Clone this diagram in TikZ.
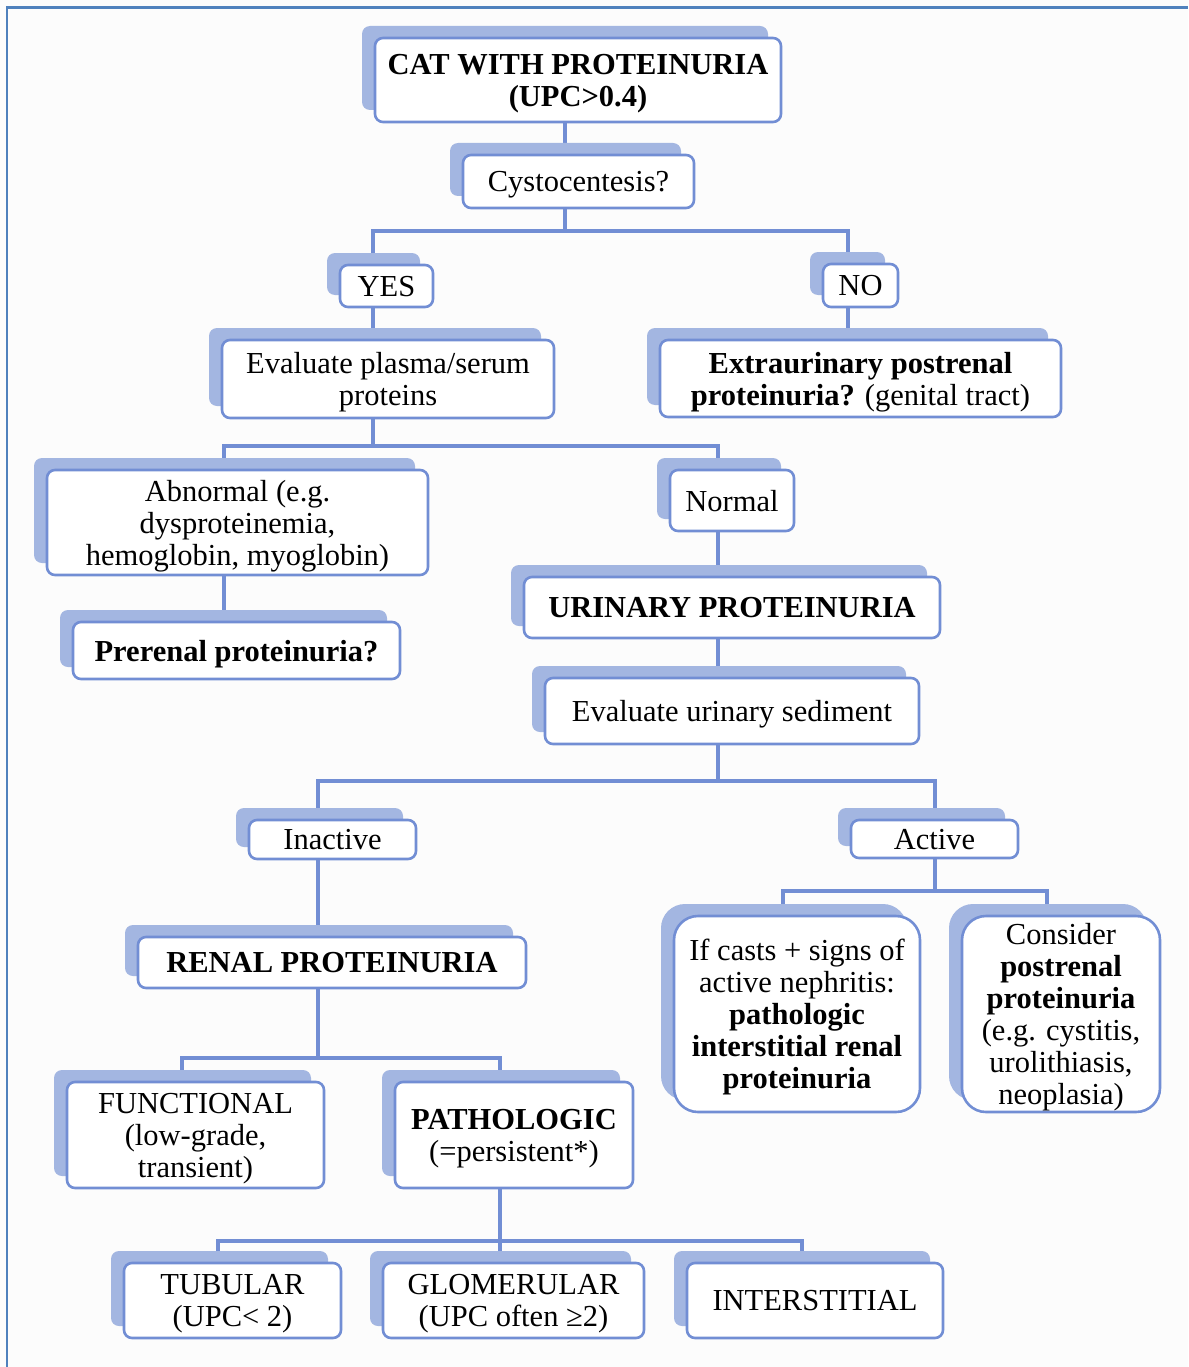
\documentclass[tikz,border=0pt]{standalone}
\usepackage{fontspec}
\setmainfont{Liberation Serif}
\usetikzlibrary{shadows,backgrounds}
\definecolor{boxline}{RGB}{114,142,212}
\definecolor{shadowfill}{RGB}{163,182,225}
\definecolor{frameblue}{RGB}{79,129,189}
\definecolor{pagebg}{RGB}{252,252,252}
\tikzset{
  box/.style={draw=boxline, line width=2.6pt, fill=white, rounded corners=8pt,
    align=center, inner sep=0pt, text=black, text depth=0pt,
    font=\fontsize{30.5}{32}\selectfont,
    general shadow={fill=shadowfill, draw=none, shadow xshift=-13pt, shadow yshift=12pt}},
  bigbox/.style={box, rounded corners=24pt},
  conn/.style={draw=boxline, line width=4pt},
  frameline/.style={draw=frameblue, line width=2.5pt}
}
\newcommand\mkcp[2]{%
  \coordinate (#1-t) at ([xshift=#2]#1.north);
  \coordinate (#1-b) at ([xshift=#2]#1.south);}
\begin{document}
\begin{tikzpicture}[x=1pt,y=-1pt]
\begin{scope}[on background layer]
  \fill[pagebg] (0,0) rectangle (1188,1367);
\end{scope}
\useasboundingbox (0,0) rectangle (1188,1367);

% nodes
\node[box, minimum width=406pt, minimum height=84pt] (cat) at (578,80)
  {\textbf{CAT WITH PROTEINURIA}\\\textbf{(UPC>0.4)}};
\node[box, minimum width=231pt, minimum height=53pt] (cyst) at (578.5,181.5) {Cystocentesis?};
\node[box, minimum width=93pt, minimum height=42pt] (yes) at (386.5,286) {YES};
\node[box, minimum width=75pt, minimum height=43pt] (no) at (860.5,285.5) {NO};
\node[box, minimum width=332pt, minimum height=78pt] (evalp) at (388,379)
  {Evaluate plasma/serum\\proteins};
\node[box, minimum width=401pt, minimum height=77pt] (extra) at (860.5,378.5)
  {\textbf{Extraurinary postrenal}\\\textbf{proteinuria?} (genital tract)};
\node[box, minimum width=381pt, minimum height=105pt] (abn) at (237.5,522.5)
  {Abnormal (e.g.\\dysproteinemia,\\hemoglobin, myoglobin)};
\node[box, minimum width=124pt, minimum height=61pt] (normal) at (732,500.5) {Normal};
\node[box, minimum width=327pt, minimum height=57pt] (prerenal) at (236.5,650.5)
  {\textbf{Prerenal proteinuria?}};
\node[box, minimum width=416pt, minimum height=61pt] (urinary) at (732,607.5)
  {\textbf{URINARY PROTEINURIA}};
\node[box, minimum width=374pt, minimum height=66pt] (sediment) at (732,711)
  {Evaluate urinary sediment};
\node[box, minimum width=167pt, minimum height=39pt] (inactive) at (332.5,839.5) {Inactive};
\node[box, minimum width=167pt, minimum height=38pt] (active) at (934.5,839) {Active};
\node[box, minimum width=388pt, minimum height=51pt] (renal) at (332,962.5)
  {\textbf{RENAL PROTEINURIA}};
\node[bigbox, minimum width=246pt, minimum height=196pt] (casts) at (797,1014)
  {If casts + signs of\\active nephritis:\\\textbf{pathologic}\\\textbf{interstitial renal}\\\textbf{proteinuria}};
\node[bigbox, minimum width=198pt, minimum height=196pt] (consider) at (1061,1014)
  {Consider\\\textbf{postrenal}\\\textbf{proteinuria}\\(e.g. cystitis,\\urolithiasis,\\neoplasia)};
\node[box, minimum width=257pt, minimum height=106pt] (functional) at (195.5,1135)
  {FUNCTIONAL\\(low-grade,\\transient)};
\node[box, minimum width=238pt, minimum height=106pt] (patho) at (514,1135)
  {\textbf{PATHOLOGIC}\\(=persistent*)};
\node[box, minimum width=217pt, minimum height=75pt] (tubular) at (232.5,1300.5)
  {TUBULAR\\(UPC< 2)};
\node[box, minimum width=261pt, minimum height=75pt] (glom) at (513.5,1300.5)
  {GLOMERULAR\\(UPC often ≥2)};
\node[box, minimum width=256pt, minimum height=75pt] (inter) at (815,1300.5)
  {INTERSTITIAL};

% connector points
\mkcp{cat}{-13pt}
\mkcp{cyst}{-13.5pt}
\mkcp{yes}{-13.5pt}
\mkcp{no}{-12.5pt}
\mkcp{evalp}{-15pt}
\mkcp{extra}{-12.5pt}
\mkcp{abn}{-13.5pt}
\mkcp{normal}{-14pt}
\mkcp{prerenal}{-12.5pt}
\mkcp{urinary}{-14pt}
\mkcp{sediment}{-14pt}
\mkcp{inactive}{-14.5pt}
\mkcp{active}{0pt}
\mkcp{renal}{-14pt}
\mkcp{casts}{-14pt}
\mkcp{consider}{-14pt}
\mkcp{functional}{-13.5pt}
\mkcp{patho}{-14pt}
\mkcp{tubular}{-14.5pt}
\mkcp{glom}{-13.5pt}
\mkcp{inter}{-13pt}

\begin{scope}[on background layer]
  \draw[conn] (cat-b) -- (cyst-t);
  \draw[conn] (cyst-b) -- ++(0,22) coordinate (j1);
  \draw[conn] (yes-t) |- (j1) -| (no-t);
  \draw[conn] (yes-b) -- (evalp-t);
  \draw[conn] (no-b) -- (extra-t);
  \draw[conn] (evalp-b) -- ++(0,27) coordinate (j2);
  \draw[conn] (abn-t) |- (j2) -| (normal-t);
  \draw[conn] (abn-b) -- (prerenal-t);
  \draw[conn] (normal-b) -- (urinary-t);
  \draw[conn] (urinary-b) -- (sediment-t);
  \draw[conn] (sediment-b) -- ++(0,36) coordinate (j3);
  \draw[conn] (inactive-t) |- (j3) -| (active-t);
  \draw[conn] (inactive-b) -- (renal-t);
  \draw[conn] (active-b) -- ++(0,32) coordinate (j4);
  \draw[conn] (casts-t) |- (j4) -| (consider-t);
  \draw[conn] (renal-b) -- ++(0,69) coordinate (j5);
  \draw[conn] (functional-t) |- (j5) -| (patho-t);
  \draw[conn] (patho-b) -- ++(0,52) coordinate (j6);
  \draw[conn] (tubular-t) |- (j6) -| (inter-t);
  \draw[conn] (j6) -- (glom-t);
\end{scope}

% frame
\draw[frameline] (7,1367) -- (7,7.5) -- (1188,7.5);
\end{tikzpicture}
\end{document}
